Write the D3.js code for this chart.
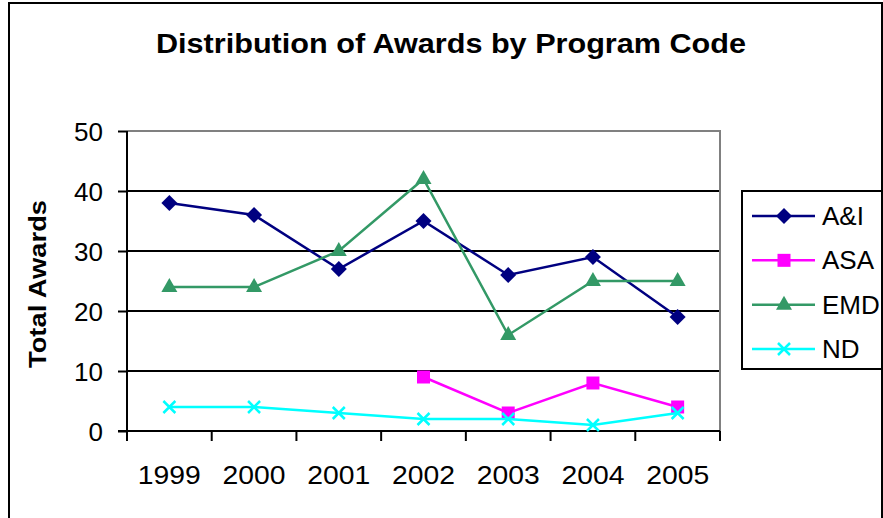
<!DOCTYPE html>
<html>
<head>
<meta charset="utf-8">
<script src="https://cdn.jsdelivr.net/npm/d3@7"></script>
<style>
  body { margin: 0; background: #fff; }
  svg { display: block; font-family: "Liberation Sans", Arial, sans-serif; }
</style>
</head>
<body>
<svg id="chart" width="883" height="518"></svg>
<script>
// data
const years = ['1999', '2000', '2001', '2002', '2003', '2004', '2005'];
const yTicks = [0, 10, 20, 30, 40, 50];
const aiValues = [38, 36, 27, 35, 26, 29, 19];
const asaValues = [null, null, null, 9, 3, 8, 4];
const emdValues = [24, 24, 30, 42, 16, 25, 25];
const ndValues = [4, 4, 3, 2, 2, 1, 3];
const seriesNames = ['A&I', 'ASA', 'EMD', 'ND'];

const series = [
  { name: seriesNames[0], values: aiValues, color: '#000080', marker: 'diamond' },
  { name: seriesNames[1], values: asaValues, color: '#FF00FF', marker: 'square' },
  { name: seriesNames[2], values: emdValues, color: '#339966', marker: 'triangle' },
  { name: seriesNames[3], values: ndValues, color: '#00FFFF', marker: 'x' }
];

const svg = d3.select('#chart');
const plot = { left: 127, top: 131, right: 720, bottom: 431 };

// outer chart frame
svg.append('rect')
  .attr('x', 9).attr('y', 3)
  .attr('width', 873).attr('height', 540)
  .attr('fill', '#fff')
  .attr('stroke', '#000')
  .attr('stroke-width', 2);

svg.append('text')
  .attr('x', 451).attr('y', 53)
  .attr('text-anchor', 'middle')
  .attr('font-size', 27).attr('font-weight', 'bold')
  .attr('textLength', 590).attr('lengthAdjust', 'spacingAndGlyphs')
  .text('Distribution of Awards by Program Code');

const x = d3.scaleBand().domain(years).range([plot.left, plot.right]);
const y = d3.scaleLinear().domain([0, 50]).range([plot.bottom, plot.top]);

// gridlines
svg.append('g')
  .selectAll('line')
  .data(yTicks.filter(t => t > 0 && t < 50))
  .enter().append('line')
  .attr('x1', plot.left).attr('x2', plot.right)
  .attr('y1', d => y(d)).attr('y2', d => y(d))
  .attr('stroke', '#000').attr('stroke-width', 2);

// plot border (top and right in grey)
svg.append('path')
  .attr('d', `M${plot.left},${plot.top}H${plot.right}V${plot.bottom}`)
  .attr('fill', 'none')
  .attr('stroke', '#808080')
  .attr('stroke-width', 2);

// y axis
const yAxis = svg.append('g')
  .attr('transform', `translate(${plot.left},0)`)
  .call(d3.axisLeft(y).tickValues(yTicks).tickSize(9).tickPadding(15));
yAxis.selectAll('line, path').attr('stroke', '#000').attr('stroke-width', 2);
yAxis.select('.domain').attr('d', `M0,${plot.top}V${plot.bottom}`);
yAxis.selectAll('text')
  .attr('font-size', 26)
  .attr('font-family', '"Liberation Sans", Arial, sans-serif')
  .attr('fill', '#000')
  .attr('dy', '0.36em');

// x axis: ticks at band boundaries
const xAxisG = svg.append('g').attr('transform', `translate(0,${plot.bottom})`);
xAxisG.append('line')
  .attr('x1', plot.left - 9).attr('x2', plot.right)
  .attr('stroke', '#000').attr('stroke-width', 2);
xAxisG.selectAll('.tick')
  .data(years.concat(['end']))
  .enter().append('line')
  .attr('x1', d => d === 'end' ? x.range()[1] : x(d))
  .attr('x2', d => d === 'end' ? x.range()[1] : x(d))
  .attr('y1', 0).attr('y2', 10)
  .attr('stroke', '#000').attr('stroke-width', 2);
xAxisG.selectAll('text')
  .data(years)
  .enter().append('text')
  .attr('x', d => x(d) + x.bandwidth() / 2)
  .attr('y', 53)
  .attr('text-anchor', 'middle')
  .attr('font-size', 26)
  .attr('textLength', 63).attr('lengthAdjust', 'spacingAndGlyphs')
  .text(d => d);

svg.append('text')
  .attr('transform', `translate(46,${(plot.top + plot.bottom) / 2 + 3}) rotate(-90)`)
  .attr('text-anchor', 'middle')
  .attr('font-size', 23).attr('font-weight', 'bold')
  .attr('textLength', 168).attr('lengthAdjust', 'spacingAndGlyphs')
  .text('Total Awards');

const cx = i => x(years[i]) + x.bandwidth() / 2;

function drawMarker(g, s, px, py) {
  let d;
  if (s.marker === 'diamond') {
    d = `M${px},${py - 8}L${px + 8},${py}L${px},${py + 8}L${px - 8},${py}Z`;
  } else if (s.marker === 'square') {
    d = `M${px - 6.5},${py - 6.5}h13v13h-13Z`;
  } else if (s.marker === 'triangle') {
    d = `M${px},${py - 9}L${px + 8},${py + 5}L${px - 8},${py + 5}Z`;
  } else {
    const r = 6;
    g.append('path')
      .attr('d', `M${px - r},${py - r}L${px + r},${py + r}M${px - r},${py + r}L${px + r},${py - r}`)
      .attr('stroke', s.color).attr('stroke-width', 2.5).attr('fill', 'none');
    return;
  }
  g.append('path').attr('d', d).attr('fill', s.color);
}

const line = d3.line()
  .defined(d => d != null)
  .x((d, i) => cx(i))
  .y(d => y(d));

series.forEach(s => {
  const g = svg.append('g');
  g.append('path')
    .attr('d', line(s.values))
    .attr('fill', 'none')
    .attr('stroke', s.color)
    .attr('stroke-width', 2.5);
  s.values.forEach((v, i) => {
    if (v != null) drawMarker(g, s, cx(i), y(v));
  });
});

// legend
const legend = svg.append('g');
legend.append('rect')
  .attr('x', 742).attr('y', 191)
  .attr('width', 140).attr('height', 178)
  .attr('fill', '#fff')
  .attr('stroke', '#000').attr('stroke-width', 2);
const legendY = d3.scalePoint().domain(seriesNames).range([216, 349]);
series.forEach(s => {
  const ly = legendY(s.name);
  legend.append('line')
    .attr('x1', 752).attr('x2', 815)
    .attr('y1', ly).attr('y2', ly)
    .attr('stroke', s.color).attr('stroke-width', 2.5);
  drawMarker(legend, s, 784, ly);
  legend.append('text')
    .attr('x', 822).attr('y', ly + 9)
    .attr('font-size', 26)
    .text(s.name);
});
</script>
</body>
</html>
